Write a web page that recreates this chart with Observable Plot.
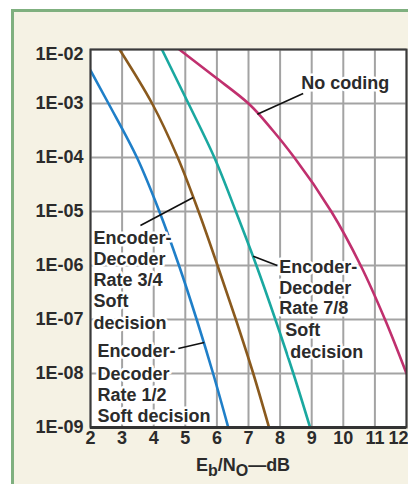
<!DOCTYPE html>
<html><head><meta charset="utf-8">
<script src="https://cdn.jsdelivr.net/npm/d3@7"></script>
<script src="https://cdn.jsdelivr.net/npm/@observablehq/plot@0.6"></script>
<style>
body{margin:0;background:#fff;overflow:hidden;}
#panel{position:absolute;left:11px;top:9px;width:397px;height:475px;background:#f5f2e4;border-left:3px solid #7fb07f;border-top:3px solid #7fb07f;box-sizing:border-box;}
#chart{position:absolute;left:0;top:0;}
</style></head><body>
<div id="panel"></div><div id="chart"></div>
<script>
// Eb/No (dB) and bit error rate
const ebnoRate12 = [2.0, 2.57, 3.47, 4.18, 4.8, 5.36, 5.88, 6.36];
const berRate12  = [4.1e-3, 1e-3, 1e-4, 1e-5, 1e-6, 1e-7, 1e-8, 1e-9];
const ebnoRate34 = [2.92, 3.95, 4.76, 5.42, 6.02, 6.6, 7.15, 7.65];
const berRate34  = [1e-2, 1e-3, 1e-4, 1e-5, 1e-6, 1e-7, 1e-8, 1e-9];
const ebnoRate78 = [4.26, 5.1, 5.92, 6.6, 7.25, 7.85, 8.42, 8.95];
const berRate78  = [1e-2, 1e-3, 1e-4, 1e-5, 1e-6, 1e-7, 1e-8, 1e-9];
const ebnoUncoded = [4.81, 5.92, 7.0, 7.77, 8.45, 9.62, 10.55, 11.32, 12.0];
const berUncoded  = [1e-2, 3.16e-3, 1e-3, 3.16e-4, 1e-4, 1e-5, 1e-6, 1e-7, 1e-8];

const seriesNames = ["Rate 1/2", "Rate 3/4", "Rate 7/8", "No coding"];
const seriesColors = ["#1f7fc8", "#8a5a1e", "#1aa8a0", "#c0306e"];

const xTicks = [2, 3, 4, 5, 6, 7, 8, 9, 10, 11];
const xLastTick = [12];
const yTicks = [1e-2, 1e-3, 1e-4, 1e-5, 1e-6, 1e-7, 1e-8, 1e-9];
const yTickLabels = ["1E-02", "1E-03", "1E-04", "1E-05", "1E-06", "1E-07", "1E-08", "1E-09"];

// annotation text (one entry per line), anchored in data units
const labelText = ["No coding",
  "Encoder-", "Decoder", "Rate 3/4", "Soft", "decision",
  "Encoder-", "Decoder", "Rate 7/8", "Soft", "decision",
  "Encoder-", "Decoder", "Rate 1/2", "Soft decision"];
const labelEbno = [8.667,
  2.095, 2.095, 2.095, 2.095, 2.095,
  7.97, 7.97, 7.97, 8.16, 8.32,
  2.22, 2.22, 2.22, 2.22];
const labelBer = [2.34e-3,
  3.16e-6, 1.29e-6, 5.27e-7, 2.15e-7, 8.4e-8,
  9.2e-7, 3.75e-7, 1.6e-7, 6.25e-8, 2.45e-8,
  2.55e-8, 9.6e-9, 3.92e-9, 1.6e-9];

// leader lines
const leaderEbno1 = [8.73, 3.58, 7.91, 4.78];
const leaderBer1  = [1.53e-3, 5.5e-6, 1e-6, 2.9e-8];
const leaderEbno2 = [7.28, 5.25, 7.15, 5.60];
const leaderBer2  = [6.3e-4, 1.82e-5, 1.48e-6, 3.75e-8];

const seriesX = [ebnoRate12, ebnoRate34, ebnoRate78, ebnoUncoded];
const seriesY = [berRate12, berRate34, berRate78, berUncoded];
const curves = seriesNames.flatMap((name, i) => seriesX[i].map((x, j) => ({name, x, y: seriesY[i][j]})));
const labels = labelText.map((t, i) => ({t, x: labelEbno[i], y: labelBer[i]}));
const leaders = leaderEbno1.map((x1, i) => ({x1, y1: leaderBer1[i], x2: leaderEbno2[i], y2: leaderBer2[i]}));
const tickLabel = new Map(yTicks.map((d, i) => [d, yTickLabels[i]]));

const font = "'Liberation Sans', Arial, sans-serif";
const gridStyle = {stroke: "#a3a3a3", strokeOpacity: 1, strokeWidth: 2};
const axisTextStyle = {fontSize: 18, fontWeight: "bold", fill: "#2b2b2b"};

const plot = Plot.plot({
  width: 408, height: 484,
  marginLeft: 90, marginRight: 2, marginTop: 49, marginBottom: 57,
  style: {background: "transparent", fontFamily: font, fontWeight: "bold", fontSize: "18px", color: "#2b2b2b", overflow: "visible"},
  x: {domain: [2, 12]},
  y: {type: "log", domain: [1e-9, 1e-2]},
  color: {domain: seriesNames, range: seriesColors},
  marks: [
    Plot.frame({fill: "white", stroke: null}),
    Plot.gridX([...xTicks, ...xLastTick], gridStyle),
    Plot.gridY(yTicks, gridStyle),
    Plot.line(curves, {x: "x", y: "y", z: "name", stroke: "name", strokeWidth: 2.6, curve: "monotone-y", clip: true}),
    Plot.text(labels, {x: "x", y: "y", text: "t", textAnchor: "start", lineAnchor: "middle", fontSize: 18, fontWeight: "bold", fill: "#2b2b2b", stroke: "white", strokeWidth: 5, fontFamily: font}),
    Plot.link(leaders, {x1: "x1", y1: "y1", x2: "x2", y2: "y2", stroke: "#111", strokeWidth: 1.6}),
    Plot.frame({stroke: "#3a3a3a", strokeWidth: 2}),
    Plot.ruleY([1e-9], {stroke: "#333", strokeWidth: 3}),
    Plot.axisX(xTicks, {tickSize: 0, tickPadding: 4, label: null, ...axisTextStyle}),
    Plot.axisX(xLastTick, {tickSize: 0, tickPadding: 4, label: null, dx: -8, ...axisTextStyle}),
    Plot.axisY(yTicks.slice(0, 1), {tickSize: 0, tickPadding: 7, label: null, dy: 5, tickFormat: d => tickLabel.get(d), ...axisTextStyle}),
    Plot.axisY(yTicks.slice(1), {tickSize: 0, tickPadding: 7, label: null, tickFormat: d => tickLabel.get(d), ...axisTextStyle})
  ]
});

// axis title with subscripts
const xs = plot.scale("x");
const cx = (xs.range[0] + xs.range[1]) / 2 - 5;
const svg = d3.select(plot.tagName.toLowerCase() === "svg" ? plot : plot.querySelector("svg"));
const t = svg.append("text")
  .attr("x", cx).attr("y", 471)
  .attr("text-anchor", "middle")
  .attr("font-family", font).attr("font-weight", "bold").attr("font-size", 18).attr("fill", "#2b2b2b");
t.append("tspan").text("E");
t.append("tspan").attr("dy", 5).attr("font-size", 16).text("b");
t.append("tspan").attr("dy", -5).text("/N");
t.append("tspan").attr("dy", 5).attr("font-size", 16).text("O");
t.append("tspan").attr("dy", -5).text("\u2014dB");

document.getElementById("chart").append(plot);
</script>
</body></html>
